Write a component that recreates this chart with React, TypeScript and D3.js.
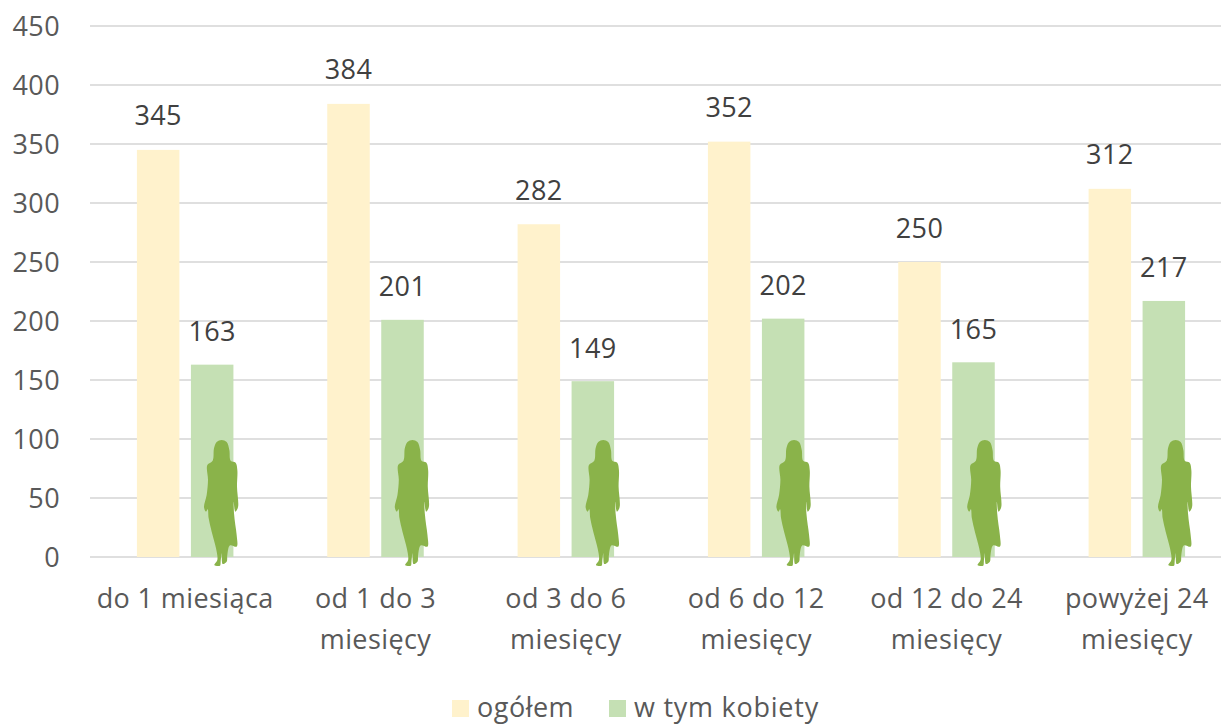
import React from "react";
import * as d3 from "d3";

const categories = [["do 1 miesiąca"], ["od 1 do 3", "miesięcy"], ["od 3 do 6", "miesięcy"], ["od 6 do 12", "miesięcy"], ["od 12 do 24", "miesięcy"], ["powyżej 24", "miesięcy"]];
const total = [345, 384, 282, 352, 250, 312];
const women = [163, 201, 149, 202, 165, 217];
const ticks = [0, 50, 100, 150, 200, 250, 300, 350, 400, 450];
const silhouette: [number, number][] = [
  [125, 60], [140, 66], [148, 90], [152, 122], [167, 128], [172, 150], [171, 200], [174, 262], [166, 275], [161, 245],
  [162, 280], [166, 315], [170, 345], [170, 380], [150, 376], [142, 405], [140, 425], [128, 432], [125, 400], [122, 425], [120, 437],
  [103, 435], [112, 420], [108, 385], [95, 335], [86, 295], [83, 268], [78, 275], [72, 262], [80, 225], [84, 180], [82, 135], [98, 122], [102, 85], [110, 66],
];

const FONT = "'Open Sans', 'Noto Sans', sans-serif";
const TEXT = "#595959";
const LS = 0.4;
const FS = 27;

export default function App() {
  const y = d3.scaleLinear().domain([0, 450]).range([557, 26]);
  const x = d3.scaleBand<number>().domain(d3.range(6)).range([90, 1232]);
  const figX = d3.scalePoint<number>().domain(d3.range(6)).range([221, 1175]);
  const barW = 42.5;
  const gap = 11.5;
  const fig = d3.line<[number, number]>()
    .x((d) => d[0] / 3)
    .y((d) => d[1] / 3)
    .curve(d3.curveCatmullRomClosed.alpha(0.5));
  return (
    <svg width={1221} height={724} style={{ position: "absolute", left: 0, top: 0, fontFamily: FONT }}>
      <rect width={1221} height={724} fill="#fff" />
      {ticks.map((t) => (
        <g key={t}>
          <line x1={90} x2={1221} y1={y(t)} y2={y(t)} stroke="#dfdfdf" strokeWidth={2} />
          <text x={60} y={y(t) + 9.5} textAnchor="end" fontSize={FS} letterSpacing={LS} fill={TEXT}>{t}</text>
        </g>
      ))}
      {categories.map((lines, i) => {
        const c = x(i)! + x.bandwidth() / 2;
        const x1 = c - gap / 2 - barW;
        const x2 = c + gap / 2;
        return (
          <g key={i}>
            <rect x={x1} y={y(total[i])} width={barW} height={y(0) - y(total[i])} fill="#fff2cc" />
            <rect x={x2} y={y(women[i])} width={barW} height={y(0) - y(women[i])} fill="#c5e0b4" />
            <text x={x1 + barW / 2} y={y(total[i]) - 24.5} textAnchor="middle" fontSize={FS} letterSpacing={LS} fill="#404040">{total[i]}</text>
            <text x={x2 + barW / 2} y={y(women[i]) - 23.5} textAnchor="middle" fontSize={FS} letterSpacing={LS} fill="#404040">{women[i]}</text>
            <path d={fig(silhouette)!} transform={`translate(${figX(i)! - 41},420)`} fill="#8ab34a" />
            {lines.map((l, k) => (
              <text key={k} x={c} y={607.5 + k * 41} textAnchor="middle" fontSize={FS} letterSpacing={LS} fill={TEXT}>{l}</text>
            ))}
          </g>
        );
      })}
      <rect x={452} y={700} width={17} height={17} fill="#fff2cc" />
      <text x={477} y={717} fontSize={FS} letterSpacing={0.5} fill={TEXT}>ogółem</text>
      <rect x={609} y={700} width={17} height={17} fill="#c5e0b4" />
      <text x={634} y={717} fontSize={FS} letterSpacing={0.75} fill={TEXT}>w tym kobiety</text>
    </svg>
  );
}
